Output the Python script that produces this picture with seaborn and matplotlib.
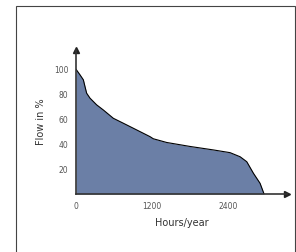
import numpy as np
import pandas as pd
import matplotlib
matplotlib.use("Agg")
import matplotlib.pyplot as plt
import seaborn as sns
from matplotlib.patches import Rectangle

# flow duration curve
hours = [0, 63, 116, 142, 168, 221, 326, 431, 589, 747, 958, 1168, 1220, 1432,
         1800, 2168, 2432, 2590, 2695, 2800, 2905, 2968]
flow = [100.5, 96, 92, 86.5, 81.2, 77.2, 71.8, 67.7, 61, 57, 51.6, 46.2, 44.5, 41.5,
        38.3, 35.5, 33.3, 30, 26, 16.7, 8.6, 0]
xticks = [0, 1200, 2400]
yticks = [20, 40, 60, 80, 100]

df = pd.DataFrame({"Hours": hours, "Flow": flow})

sns.set_style("white")
plt.rcParams["font.family"] = ["DejaVu Sans"]

W, H = 296, 252
fig = plt.figure(figsize=(W / 100, H / 100), dpi=100)

# outer frame (bottom edge falls outside the picture)
fig.patches.append(Rectangle((16 / W, -0.05), (295 - 16) / W, (H - 6) / H + 0.05,
                             transform=fig.transFigure, fill=False,
                             edgecolor="#444444", linewidth=0.8))

ax = fig.add_axes([76 / W, (H - 194) / H, (287 - 76) / W, (194 - 50) / H])
ax.fill_between(df["Hours"], df["Flow"], color="#6b7fa6", linewidth=0)
sns.lineplot(data=df, x="Hours", y="Flow", ax=ax, color="black", linewidth=0.8)

ax.set_xlim(0, 3330)
ax.set_ylim(0, 116)

for s in ["top", "right"]:
    ax.spines[s].set_visible(False)
for s in ["left", "bottom"]:
    ax.spines[s].set_color("#333333")
    ax.spines[s].set_linewidth(1.2)

# arrow heads
ax.plot(1, 0, ">", color="#222222", ms=5, transform=ax.transAxes, clip_on=False)
ax.plot(0, 1, "^", color="#222222", ms=5, transform=ax.transAxes, clip_on=False)

ax.set_xticks(xticks)
ax.set_yticks(yticks)
ax.tick_params(direction="inout", length=5, width=1, color="#333333",
               labelsize=5.5, labelcolor="#555555", pad=3)
ax.xaxis.get_major_ticks()[0].tick1line.set_visible(False)

ax.set_xlabel("Hours/year", fontsize=7, color="#333333", labelpad=5)
ax.set_ylabel("Flow in %", fontsize=7, color="#333333", labelpad=6)

fig.savefig("out.png", dpi=100)
